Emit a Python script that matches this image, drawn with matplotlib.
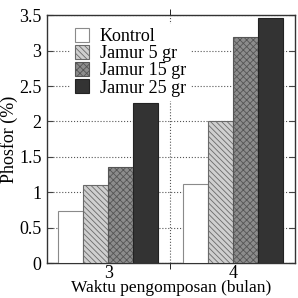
import matplotlib.pyplot as plt
import numpy as np

plt.rcParams['font.family'] = 'serif'
plt.rcParams['font.serif'] = ['Liberation Serif', 'DejaVu Serif']
plt.rcParams['hatch.linewidth'] = 0.6

bulan = ['3', '4']
kontrol = [0.73, 1.12]
jamur5 = [1.11, 2.0]
jamur15 = [1.36, 3.19]
jamur25 = [2.26, 3.46]

labels = ['Kontrol', 'Jamur 5 gr', 'Jamur 15 gr', 'Jamur 25 gr']
series = [kontrol, jamur5, jamur15, jamur25]
faces = ['white', '#cfcfcf', '#8c8c8c', '#333333']
hatches = ['', '\\\\\\\\\\\\', 'xxxxx', '']
edges = ['#8a8a8a', '#6a6a6a', '#555555', '#222222']

fig = plt.figure(figsize=(2.98, 2.98), dpi=100)
ax = fig.add_axes([0.158, 0.117, 0.832, 0.832])

x = np.arange(len(bulan))
w = 0.2
for i, (vals, lab) in enumerate(zip(series, labels)):
    ax.bar(x + (i - 1.5) * w, vals, w, color=faces[i], hatch=hatches[i],
           edgecolor=edges[i], linewidth=0.8, label=lab, zorder=3)

ax.set_xlim(-0.49, 1.5)
ax.set_ylim(0, 3.5)
ax.set_yticks(np.arange(0, 3.51, 0.5))
ax.set_yticklabels(['0', '0.5', '1', '1.5', '2', '2.5', '3', '3.5'])
ax.set_xticks(x)
ax.set_xticklabels(bulan)
ax.set_xticks([0.5], minor=True)
ax.tick_params(axis='both', direction='in', labelsize=13, length=4, color='#444444')
ax.tick_params(axis='y', right=True, pad=4)
ax.tick_params(axis='x', which='major', length=0, pad=1)
ax.tick_params(axis='x', which='minor', top=True, bottom=True, length=4)
ax.grid(axis='y', linestyle=':', color='#555555', linewidth=0.8, zorder=0)
ax.axvline(0.5, linestyle=':', color='#555555', linewidth=0.8, zorder=0)
for s in ax.spines.values():
    s.set_color('#333333')
    s.set_linewidth(1.0)

ax.set_ylabel('Phosfor (%)', fontsize=13, labelpad=1)
ax.set_xlabel('Waktu pengomposan (bulan)', fontsize=12.5, labelpad=-1)

leg = ax.legend(loc='upper left', bbox_to_anchor=(0.06, 1.0), frameon=True,
                fontsize=13, handlelength=0.8, handleheight=0.8, handletextpad=0.6,
                labelspacing=0.0, borderpad=0.2, fancybox=False)
leg.get_frame().set_edgecolor('white')
leg.get_frame().set_facecolor('white')
leg.get_frame().set_alpha(1)
leg.set_zorder(5)

plt.savefig('out.png', dpi=100)
